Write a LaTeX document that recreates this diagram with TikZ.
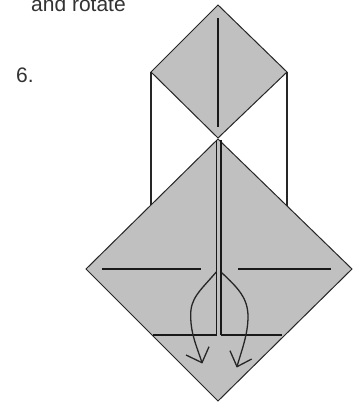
\documentclass[tikz,border=0pt]{standalone}
\usepackage{fontspec}
\setmainfont{Liberation Sans}
\definecolor{paper}{HTML}{C0C0C0}
\tikzset{
  flap/.style={draw=black!85, fill=paper, line width=1pt},
  crease/.style={draw=black!90, line width=1.5pt},
  edgeline/.style={draw=black!85, line width=1.4pt},
  foldarrow/.style={draw=black!85, line width=1.3pt, line join=round},
  caption/.style={inner sep=0pt, text=black!80, font=\fontsize{21pt}{22pt}\selectfont}
}

\begin{document}
\begin{tikzpicture}[x=1pt, y=-1pt]
  \clip (0,0) rectangle (354,402);
  \fill[white] (0,0) rectangle (354,402);
  \node[caption, anchor=base west] (turn) at (31,11.5) {and rotate};
  \node[caption, anchor=base west] (six) at (16,82) {6.};

  \draw[edgeline] (151,72) -- (151,206);
  \draw[edgeline] (287,72) -- (287,206);

  \draw[flap] (218,139) -- (352,269) -- (218,401) -- (86,269) -- cycle;
  \draw[flap] (218,5) -- (287,72) -- (218,138) -- (151,72) -- cycle;

  \draw[crease] (218,18) -- (218,127);
  \draw[crease] (216.5,140) -- (216.5,335);
  \draw[crease] (221,140) -- (221,335);
  \draw[crease] (102,269) -- (201,269);
  \draw[crease] (238,269) -- (331,269);
  \draw[crease] (153,335) -- (216.5,335);
  \draw[crease] (221,335) -- (282,335);

  \draw[foldarrow] (216.7,271.5) .. controls (200,291) and (190,298) .. (190.7,316.7) .. controls (191,335) and (197,347) .. (202,362.7);
  \draw[foldarrow] (186,355) -- (202,362.7) -- (209,346.7);
  \draw[foldarrow] (221.7,272.7) .. controls (238,288) and (248,298) .. (248,316.7) .. controls (248,335) and (241,352) .. (237,366.7);
  \draw[foldarrow] (230,350.7) -- (237,366.7) -- (251.7,359);
\end{tikzpicture}
\end{document}
